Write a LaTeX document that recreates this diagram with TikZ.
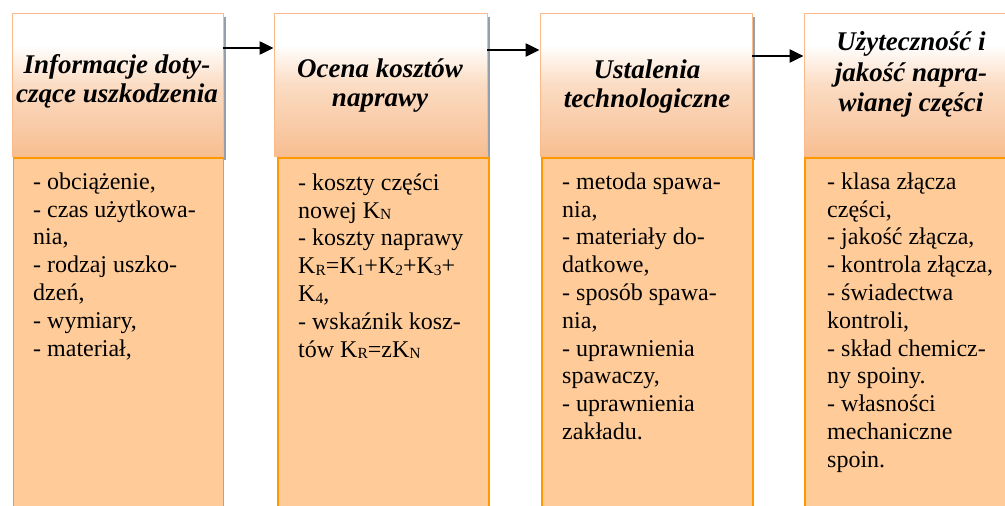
\documentclass[tikz,border=0pt]{standalone}
\usepackage{fontspec}
\setmainfont{Liberation Serif}
\usetikzlibrary{arrows.meta,shadows}
\definecolor{hbot}{RGB}{247,190,145}
\definecolor{hmid}{RGB}{251,220,195}
\definecolor{hline}{RGB}{249,186,140}
\definecolor{bfill}{RGB}{255,204,153}
\definecolor{bline}{RGB}{255,153,0}
\definecolor{shad}{RGB}{150,160,172}
\pgfdeclareverticalshading{hdrshade}{100bp}{color(0bp)=(hbot); color(25bp)=(hbot); color(50bp)=(hmid); color(64bp)=(white); color(75bp)=(white); color(100bp)=(white)}
\newcommand{\sbs}[1]{\raisebox{-1.8pt}{\fontsize{15.5}{15.5}\selectfont #1}}
\tikzset{
  hdrbox/.style={draw=hline, line width=0.8pt, shading=hdrshade, minimum height=143pt, inner sep=0pt,
    drop shadow={shadow xshift=3pt, shadow yshift=-4pt, fill=shad, opacity=1}},
  bodybox/.style={draw=bline, line width=1.6pt, fill=bfill, minimum height=380pt, inner sep=0pt, anchor=north west},
  hdrtext/.style={align=center, inner sep=0pt, font=\fontsize{27}{29}\selectfont\bfseries\itshape},
  bodytext/.style={align=left, inner sep=0pt, anchor=north west, font=\fontsize{24}{27.8}\selectfont},
  arr/.style={draw=black, line width=2.2pt, -{Triangle[length=14pt,width=13pt]}}
}
\begin{document}
\begin{tikzpicture}[x=1pt,y=-1pt]
\useasboundingbox (0,0) rectangle (1005,506);
\clip (0,0) rectangle (1005,506);
% headers
\node[hdrbox, minimum width=211pt] (h1) at (117.5,84.5) {};
\node[hdrbox, minimum width=213pt] (h2) at (380.5,84.5) {};
\node[hdrbox, minimum width=212pt] (h3) at (646,84.5) {};
\node[hdrbox, minimum width=214pt] (h4) at (911,84.5) {};
% bodies
\node[bodybox, minimum width=210pt] (p1) at (12.5,157) {};
\node[bodybox, minimum width=211pt] (p2) at (277,157) {};
\node[bodybox, minimum width=211pt] (p3) at (541,157) {};
\node[bodybox, minimum width=214pt] (p4) at (804,157) {};
% arrows
\draw[arr] ([yshift=36.5pt]h1.east) -- ([yshift=36.5pt]h2.west);
\draw[arr] ([yshift=34.5pt]h2.east) -- ([yshift=34.5pt]h3.west);
\draw[arr] ([yshift=28.5pt]h3.east) -- ([yshift=28.5pt]h4.west);
% header texts
\node[hdrtext] (t1) at (117,81) {Informacje doty-\\czące uszkodzenia};
\node[hdrtext] (t2) at (380,85.5) {Ocena kosztów\\naprawy};
\node[hdrtext] (t3) at (647,86.5) {Ustalenia\\technologiczne};
\node[hdrtext, font=\fontsize{27}{30.5}\selectfont\bfseries\itshape] (t4) at (911,74.5) {Użyteczność i\\jakość napra-\\wianej części};
% body texts
\node[bodytext] (x1) at (33,169.6) {\strut- obciążenie,\\- czas użytkowa-\\nia,\\- rodzaj uszko-\\dzeń,\\- wymiary,\\- materiał,};
\node[bodytext] (x2) at (298,170.6) {\strut- koszty części\\nowej K\sbs{N}\\- koszty naprawy\\K\sbs{R}=K\sbs{1}+K\sbs{2}+K\sbs{3}+\\K\sbs{4},\\- wskaźnik kosz-\\tów K\sbs{R}=zK\sbs{N}};
\node[bodytext] (x3) at (562,169.6) {\strut- metoda spawa-\\nia,\\- materiały do-\\datkowe,\\- sposób spawa-\\nia,\\- uprawnienia\\spawaczy,\\- uprawnienia\\zakładu.};
\node[bodytext] (x4) at (827,169.6) {\strut- klasa złącza\\części,\\- jakość złącza,\\- kontrola złącza,\\- świadectwa\\kontroli,\\- skład chemicz-\\ny spoiny.\\- własności\\mechaniczne\\spoin.};
\end{tikzpicture}
\end{document}
